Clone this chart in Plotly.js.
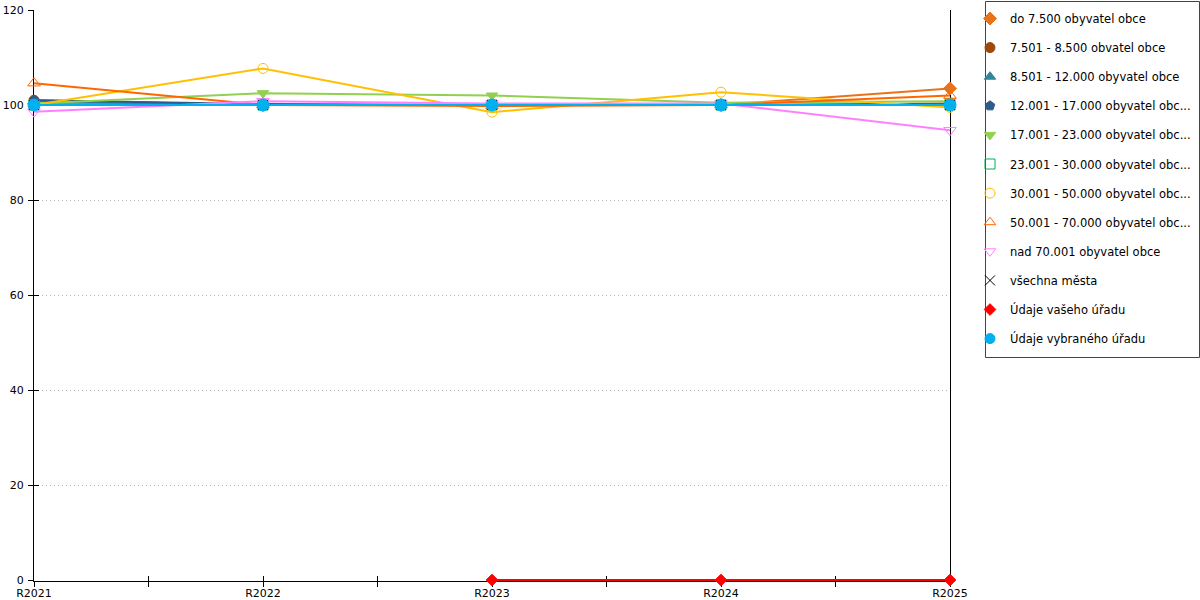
<!DOCTYPE html>
<html><head><meta charset="utf-8">
<script src="https://cdn.plot.ly/plotly-3.0.1.min.js"></script>
<style>html,body{margin:0;padding:0;background:#fff}#chart{width:1200px;height:600px}</style>
</head><body><div id="chart"></div>
<script>
const categories = ['R2021','R2022','R2023','R2024','R2025'];
const do7500    = [100.3, 100.0, 100.0, 100.0, 103.5];
const s7501     = [101.0, 100.0, 100.0, 100.0, 100.3];
const s8501     = [100.8, 100.0, 100.0, 100.0, 100.0];
const s12001    = [101.0, 100.2, 100.0, 100.0, 100.0];
const s17001    = [100.3, 102.5, 102.0, 100.5, 100.8];
const s23001    = [100.0, 100.0, 100.0, 100.0, 100.0];
const s30001    = [100.0, 107.7, 98.5, 102.7, 99.5];
const s50001    = [104.6, 100.0, 99.8, 100.0, 102.0];
const s70001    = [98.6, 100.8, 100.3, 100.3, 94.7];
const vsechna   = [100.0, 100.0, 100.0, 100.0, 100.0];
const vaseho    = [null, null, 0, 0, 0];
const vybraneho = [100.0, 100.0, 100.0, 100.0, 100.0];
const names = ['do 7.500 obyvatel obce','7.501 - 8.500 obvatel obce','8.501 - 12.000 obyvatel obce',
  '12.001 - 17.000 obyvatel obc...','17.001 - 23.000 obyvatel obc...','23.001 - 30.000 obyvatel obc...',
  '30.001 - 50.000 obyvatel obc...','50.001 - 70.000 obyvatel obc...','nad 70.001 obyvatel obce',
  'všechna města','Údaje vašeho úřadu','Údaje vybraného úřadu'];
const yTicks = [0,20,40,60,80,100,120];

const xIdx = categories.map((c,i)=>i);
const tickVals = [], tickText = [];
categories.forEach((c,i)=>{ tickVals.push(i); tickText.push(c); if(i<categories.length-1){tickVals.push(i+0.5); tickText.push('');} });

const series = [do7500,s7501,s8501,s12001,s17001,s23001,s30001,s50001,s70001,vsechna,vaseho,vybraneho];
const styles = [
  {c:'#E8731A', s:'diamond', sz:10},
  {c:'#9C4A0C', s:'circle', sz:10},
  {c:'#31859C', s:'triangle-up', sz:10},
  {c:'#2E5C8A', s:'pentagon', sz:10},
  {c:'#92D050', s:'triangle-down', sz:10},
  {c:'#00B050', s:'square-open', sz:10},
  {c:'#FFC000', s:'circle-open', sz:10},
  {c:'#FF6600', s:'triangle-up-open', sz:11},
  {c:'#FF80FF', s:'triangle-down-open', sz:11},
  {c:'#000000', s:'x-thin-open', sz:10},
  {c:'#FF0000', s:'diamond', sz:9},
  {c:'#00B0F0', s:'circle', sz:12}
];
const traces = series.map((arr,i)=>({
  x: xIdx, y: arr, name: names[i], type:'scatter', mode:'lines+markers', showlegend:false,
  line:{color:styles[i].c, width:2}, cliponaxis:false,
  marker:{color:styles[i].c, symbol:styles[i].s, size:styles[i].sz, line:{color:styles[i].c, width:1}},
  connectgaps:false
}));
// legend entries: marker only
series.forEach((arr,i)=>traces.push({
  x:[null], y:[null], name:names[i], type:'scatter', mode:'markers', legendgroup:'g'+i,
  marker:{color:styles[i].c, symbol:styles[i].s, size:Math.min(styles[i].sz,10), line:{color:styles[i].c, width:1}}
}));
// overlay axis for the other half of crossing ticks
traces.push({x:[0], y:[null], xaxis:'x2', yaxis:'y2', showlegend:false, hoverinfo:'skip', mode:'markers'});

const font = {family:'DejaVu Sans, Verdana, sans-serif', size:11, color:'#000'};
const lfont = {family:'DejaVu Sans, Verdana, sans-serif', size:11.5, color:'#000'};
const yr = [-0.21, 120];
const layout = {
  width:1200, height:600,
  margin:{l:34, r:250, t:10, b:19, pad:0, autoexpand:false},
  paper_bgcolor:'#fff', plot_bgcolor:'#fff',
  font: font,
  showlegend:true,
  legend:{x:970/1200, xref:'container', xanchor:'left', y:1-4/600, yref:'container', yanchor:'top', bgcolor:'rgba(0,0,0,0)',
    borderwidth:0, font:lfont, tracegroupgap:10.1, itemwidth:30, maxheight:1000},
  xaxis:{range:[0, categories.length-1], tickmode:'array', tickvals:tickVals, ticktext:tickText,
    showgrid:false, zeroline:false, showline:true, linecolor:'#000', linewidth:1, layer:'below traces',
    ticks:'inside', ticklen:5, tickcolor:'#000', tickfont:font, ticklabelstandoff:2, fixedrange:true},
  yaxis:{range:yr, tickmode:'array', tickvals:yTicks, showgrid:true, gridcolor:'#b4b4b4', griddash:'1px,3px',
    zeroline:false, showline:true, linecolor:'#000', linewidth:1, mirror:true, layer:'below traces',
    ticks:'outside', ticklen:5, tickcolor:'#000', tickfont:font, ticklabelstandoff:2},
  xaxis2:{overlaying:'x', range:[0, categories.length-1], tickmode:'array', tickvals:tickVals, ticktext:tickText.map(()=> ''),
    showgrid:false, zeroline:false, showline:false, ticks:'outside', ticklen:5, tickcolor:'#000', showticklabels:false, anchor:'y2', layer:'below traces'},
  yaxis2:{overlaying:'y', range:yr, tickmode:'array', tickvals:yTicks, showgrid:false, zeroline:false,
    showline:false, ticks:'inside', ticklen:5, tickcolor:'#000', showticklabels:false, anchor:'x2', side:'left', layer:'below traces'},
  shapes:[{type:'rect', xref:'paper', yref:'paper', x0:(985.5-34)/916, x1:(1199.5-34)/916, y0:(581-357.5)/571, y1:(581-1.5)/571,
    line:{color:'#444', width:1}, fillcolor:'rgba(0,0,0,0)'}]
};
Plotly.newPlot('chart', traces, layout, {displayModeBar:false, staticPlot:true});
</script></body></html>
